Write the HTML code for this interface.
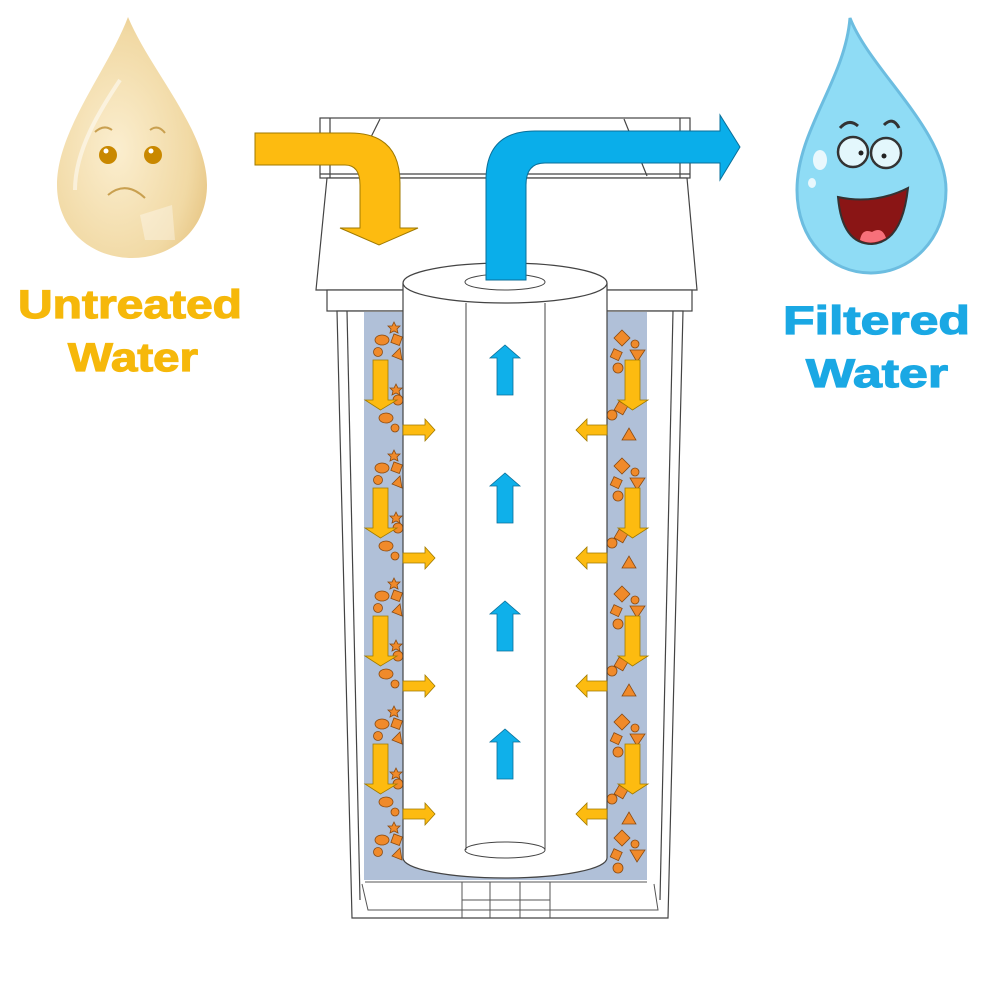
<!DOCTYPE html>
<html><head><meta charset="utf-8"><style>
html,body{margin:0;padding:0;background:#fff;}
svg{display:block;}
</style></head><body>
<svg width="1000" height="1000" viewBox="0 0 1000 1000" xmlns="http://www.w3.org/2000/svg">
<defs>
<radialGradient id="ld" cx="0.4" cy="0.55" r="0.7">
<stop offset="0" stop-color="#fbeecf"/><stop offset="0.7" stop-color="#f1d9a4"/><stop offset="1" stop-color="#e5c27e"/>
</radialGradient>
<clipPath id="media"><rect x="364" y="312" width="283" height="568"/></clipPath>
<g id="parts" fill="#f08a2a" stroke="#8a4a10" stroke-width="0.8">
<ellipse cx="382" cy="340" rx="7" ry="5"/><rect x="392" y="335" width="9" height="9" transform="rotate(20 396 340)"/>
<circle cx="378" cy="352" r="4.5"/><polygon points="392,356 400,348 402,360"/>
<polygon points="394,322 396,326 400,326 397,329 398,333 394,331 390,333 391,329 388,326 392,326"/>
<circle cx="398" cy="400" r="5"/><ellipse cx="386" cy="418" rx="7" ry="5"/><circle cx="395" cy="428" r="4"/>
<polygon points="396,384 398,388 402,388 399,391 400,395 396,393 392,395 393,391 390,388 394,388"/>
<polygon points="622,330 630,338 622,346 614,338"/><polygon points="630,350 645,350 637,362"/><circle cx="618" cy="368" r="5"/>
<rect x="612" y="350" width="9" height="9" transform="rotate(25 616 354)"/><circle cx="612" cy="415" r="5"/>
<rect x="616" y="403" width="10" height="10" transform="rotate(30 621 408)"/><polygon points="622,440 636,440 629,428"/>
<circle cx="635" cy="344" r="4"/>
</g>
<g id="arrs">
<polygon points="373,360 388,360 388,400 397,400 380.5,410 365,400 373,400" fill="#fdbb10" stroke="#a07a00" stroke-width="0.8"/>
<polygon points="403,425 425,425 425,419 435,430 425,441 425,435 403,435" fill="#fdbb10" stroke="#a07a00" stroke-width="0.8"/>
<polygon points="625,360 640,360 640,400 648,400 632.5,410 618,400 625,400" fill="#fdbb10" stroke="#a07a00" stroke-width="0.8"/>
<polygon points="607,425 587,425 587,419 576,430 587,441 587,435 607,435" fill="#fdbb10" stroke="#a07a00" stroke-width="0.8"/>
<polygon points="497,395 513,395 513,358 520,358 505,345 490,358 497,358" fill="#0fb0ea" stroke="#0a6f99" stroke-width="0.8"/>
</g>
</defs>

<!-- left drop -->
<path d="M128,17 C150,70 207,130 207,185 C207,230 172,258 132,258 C92,258 57,230 57,185 C57,130 108,70 128,17Z" fill="url(#ld)"/>
<path d="M75,190 C75,150 100,110 120,80" stroke="#fff" stroke-width="4" fill="none" opacity="0.5"/>
<circle cx="108" cy="155" r="9" fill="#c98800"/><circle cx="153" cy="155" r="9" fill="#c98800"/>
<circle cx="106" cy="151" r="2.5" fill="#fff"/><circle cx="151" cy="151" r="2.5" fill="#fff"/>
<path d="M95,132 Q104,124 112,130" stroke="#c9a050" stroke-width="2" fill="none"/>
<path d="M150,130 Q158,124 165,133" stroke="#c9a050" stroke-width="2" fill="none"/>
<path d="M108,195 Q126,180 145,198" stroke="#c9a050" stroke-width="2" fill="none"/>
<polygon points="140,215 172,205 175,240 145,240" fill="#fff" opacity="0.35"/>

<!-- right drop -->
<path d="M850,18 C870,70 946,130 946,190 C946,240 910,273 871,273 C830,273 797,240 797,190 C797,130 845,80 850,18Z" fill="#8fdcf5" stroke="#6cbde0" stroke-width="3"/>
<ellipse cx="820" cy="160" rx="7" ry="10" fill="#fff" opacity="0.8"/><ellipse cx="812" cy="183" rx="4" ry="5" fill="#fff" opacity="0.8"/>
<path d="M840,128 Q849,118 858,126" stroke="#333" stroke-width="3" fill="none"/>
<path d="M884,125 Q893,116 899,128" stroke="#333" stroke-width="3" fill="none"/>
<circle cx="853" cy="152" r="15" fill="#e3f7fc" stroke="#333" stroke-width="2.5"/>
<circle cx="886" cy="153" r="15" fill="#e3f7fc" stroke="#333" stroke-width="2.5"/>
<circle cx="861" cy="153" r="2.5" fill="#222"/><circle cx="884" cy="156" r="2.5" fill="#222"/>
<path d="M838,197 Q874,205 908,188 Q902,242 872,244 Q842,244 838,197Z" fill="#8a1515" stroke="#333" stroke-width="2"/>
<path d="M860,240 Q862,228 872,232 Q882,226 886,238 Q872,246 860,240Z" fill="#f7707a"/>

<!-- labels -->
<g font-family="Liberation Sans, Arial, sans-serif" font-weight="bold" font-size="40" stroke-width="1.2" lengthAdjust="spacingAndGlyphs">
<text x="18" y="318" fill="#f6b80a" stroke="#f6b80a" textLength="224" lengthAdjust="spacingAndGlyphs">Untreated</text>
<text x="68" y="371" fill="#f6b80a" stroke="#f6b80a" textLength="130" lengthAdjust="spacingAndGlyphs">Water</text>
<text x="783" y="334" fill="#1aa8e4" stroke="#1aa8e4" textLength="187" lengthAdjust="spacingAndGlyphs">Filtered</text>
<text x="806" y="387" fill="#1aa8e4" stroke="#1aa8e4" textLength="142" lengthAdjust="spacingAndGlyphs">Water</text>
</g>

<!-- housing -->
<g fill="#fff" stroke="#444" stroke-width="1.2">
<rect x="320" y="118" width="370" height="60"/>
<line x1="330" y1="118" x2="330" y2="178"/><line x1="680" y1="118" x2="680" y2="178"/>
<line x1="380" y1="119" x2="367" y2="145"/><line x1="624" y1="119" x2="647" y2="176"/>
<line x1="320" y1="174" x2="690" y2="174"/>
<polygon points="327,178 687,178 697,290 316,290"/>
<rect x="327" y="290" width="365" height="21"/>
<polygon points="337,311 683,311 668,918 352,918" fill="#fff"/>
<polyline points="347,311 360,900" fill="none"/><polyline points="673,311 660,900" fill="none"/>
</g>
<rect x="364" y="312" width="283" height="568" fill="#b0c0d8"/>
<g fill="none" stroke="#555" stroke-width="1">
<polyline points="365,882 647,882"/>
<polyline points="362,884 368,910 658,910 654,884"/>
<line x1="462" y1="882" x2="462" y2="918"/><line x1="490" y1="882" x2="490" y2="918"/>
<line x1="520" y1="882" x2="520" y2="918"/><line x1="550" y1="882" x2="550" y2="918"/>
<line x1="462" y1="900" x2="550" y2="900"/>
</g>

<!-- particles -->
<g clip-path="url(#media)">
<use href="#parts"/><use href="#parts" transform="translate(0,128)"/>
<use href="#parts" transform="translate(0,256)"/><use href="#parts" transform="translate(0,384)"/>
<use href="#parts" transform="translate(0,500)"/>
</g>

<!-- cartridge -->
<ellipse cx="505" cy="858" rx="102" ry="20" fill="#fff" stroke="#444" stroke-width="1.2"/>
<rect x="403" y="283" width="204" height="575" fill="#fff"/>
<line x1="403" y1="283" x2="403" y2="858" stroke="#444" stroke-width="1.2"/>
<line x1="607" y1="283" x2="607" y2="858" stroke="#444" stroke-width="1.2"/>
<ellipse cx="505" cy="283" rx="102" ry="20" fill="#fff" stroke="#444" stroke-width="1.2"/>
<ellipse cx="505" cy="282" rx="40" ry="8" fill="#fff" stroke="#444" stroke-width="1"/>
<ellipse cx="505" cy="850" rx="40" ry="8" fill="#fff" stroke="#444" stroke-width="1"/>
<line x1="466" y1="303" x2="466" y2="850" stroke="#444" stroke-width="1"/>
<line x1="545" y1="303" x2="545" y2="850" stroke="#444" stroke-width="1"/>

<!-- flow arrows -->
<use href="#arrs"/><use href="#arrs" transform="translate(0,128)"/>
<use href="#arrs" transform="translate(0,256)"/><use href="#arrs" transform="translate(0,384)"/>

<!-- inlet -->
<path d="M255,133 L350,133 Q400,133 400,183 L400,228 L418,228 L379,245 L340,228 L360,228 L360,185 Q360,165 345,165 L255,165Z" fill="#fdbb10" stroke="#a07a00" stroke-width="1"/>
<!-- outlet -->
<path d="M486,280 L486,180 Q486,131 535,131 L720,131 L720,115 L740,147 L720,180 L720,163 L545,163 Q526,163 526,185 L526,280Z" fill="#0aaeea" stroke="#0a6f99" stroke-width="1"/>
</svg>
</body></html>
